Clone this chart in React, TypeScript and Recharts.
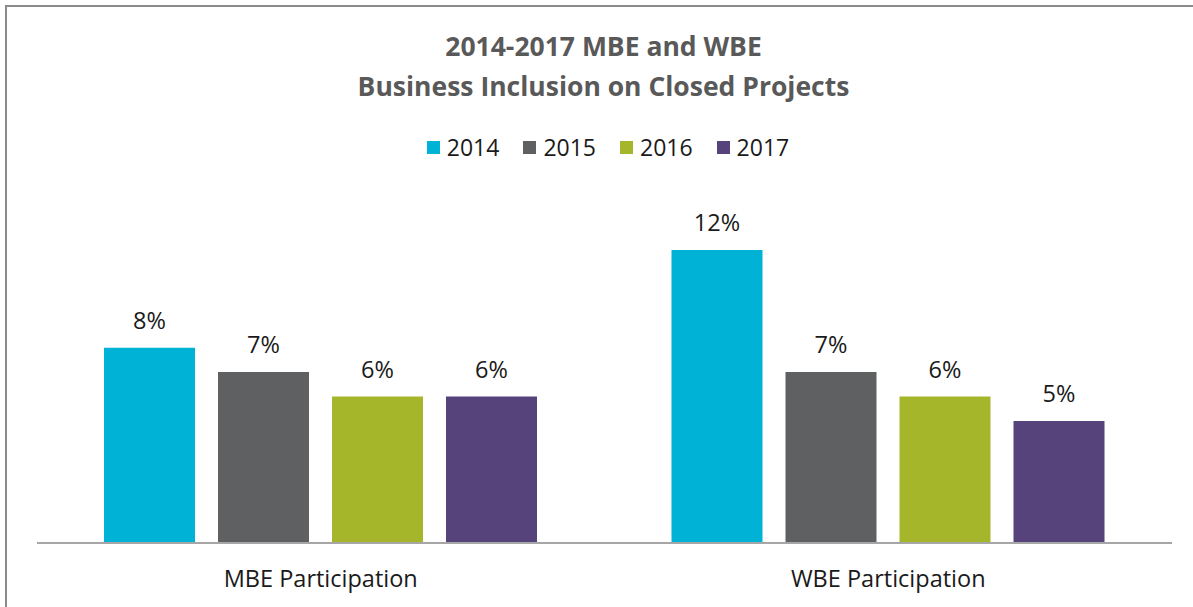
import React from 'react'
import { BarChart, Bar, XAxis, YAxis, Legend, LabelList } from 'recharts'

const categories = ['MBE Participation', 'WBE Participation']
const years = ['2014', '2015', '2016', '2017']
const values2014 = [8, 12]
const values2015 = [7, 7]
const values2016 = [6, 6]
const values2017 = [6, 5]
const colors = ['#00B2D6', '#5F6062', '#A5B62A', '#57437C']

const seriesValues = [values2014, values2015, values2016, values2017]

const data = categories.map((name, i) => {
  const row: Record<string, string | number> = { name }
  years.forEach((y, j) => { row[y] = seriesValues[j][i] })
  return row
})

const FONT = '"Open Sans", "Noto Sans", sans-serif'

const LegendContent = () => (
  <div style={{ display: 'flex', justifyContent: 'center', height: 20, alignItems: 'center', fontFamily: FONT, paddingLeft: 23 }}>
    {years.map((y, i) => (
      <div key={y} style={{ display: 'flex', alignItems: 'center', marginRight: i < years.length - 1 ? 24 : 0 }}>
        <div style={{ width: 13, height: 13, background: colors[i], marginRight: 7 }} />
        <span style={{ fontSize: 23, color: '#1a1a1a' }}>{y}</span>
      </div>
    ))}
  </div>
)

export default function App() {
  return (
    <div style={{ position: 'absolute', left: 0, top: 0, width: 1193, height: 607, background: '#fff', overflow: 'hidden' }}>
      <div style={{
        position: 'absolute', left: 5, top: 5, right: -10, bottom: -10,
        borderLeft: '2px solid #8a8a8a', borderTop: '2px solid #8a8a8a',
      }} />
      <div style={{
        position: 'absolute', left: 0, width: 1193, paddingLeft: 14, boxSizing: 'border-box', top: 26, textAlign: 'center',
        fontFamily: FONT, fontWeight: 700, fontSize: 26.5, color: '#595959', lineHeight: '40px',
      }}>
        <div>2014-2017 MBE and WBE</div>
        <div>Business Inclusion on Closed Projects</div>
      </div>
      <div style={{ position: 'absolute', left: 0, top: 0 }}>
        <BarChart
          width={1193}
          height={607}
          data={data}
          margin={{ top: 230, right: 21, left: 37, bottom: 24 }}
          barSize={91}
          barGap={23}
        >
          <XAxis
            dataKey="name"
            height={40}
            axisLine={{ stroke: '#A6A6A6', strokeWidth: 2 }}
            tickLine={false}
            tickMargin={21}
            tick={{ fill: '#1a1a1a', fontSize: 23.5, fontFamily: FONT }}
          />
          <YAxis hide domain={[0, 12]} />
          <Legend
            verticalAlign="top"
            content={<LegendContent />}
            wrapperStyle={{ top: 137, left: 0, width: 1193 }}
          />
          {years.map((y, i) => (
            <Bar key={y} dataKey={y} fill={colors[i]} isAnimationActive={false}>
              <LabelList
                dataKey={y}
                position="top"
                offset={19}
                formatter={(v: number) => `${v}%`}
                style={{ fill: '#1a1a1a', fontSize: 23.5, fontFamily: FONT }}
              />
            </Bar>
          ))}
        </BarChart>
      </div>
    </div>
  )
}
